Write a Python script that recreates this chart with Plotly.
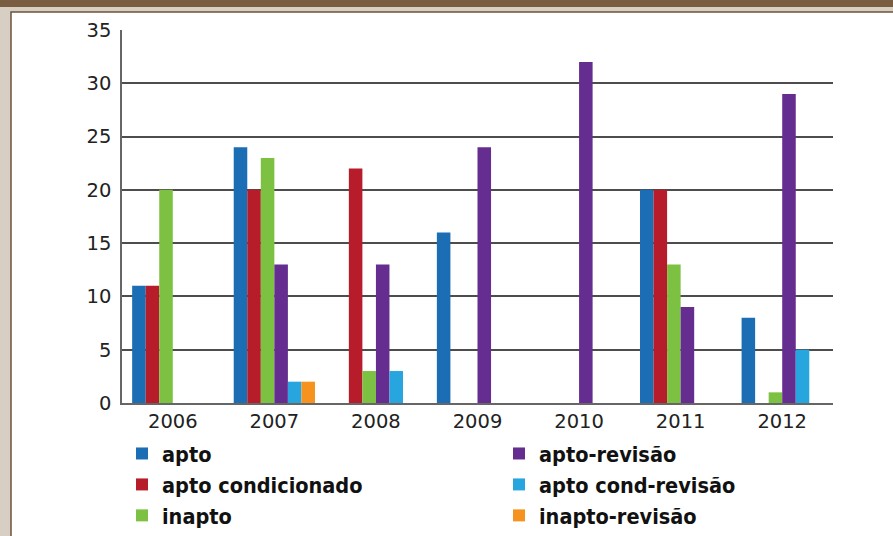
import plotly.graph_objects as go

years = ["2006", "2007", "2008", "2009", "2010", "2011", "2012"]
series_names = ["apto", "apto condicionado", "inapto",
                "apto-revisão", "apto cond-revisão", "inapto-revisão"]
apto = [11, 24, 0, 16, 0, 20, 8]
apto_cond = [11, 20, 22, 0, 0, 20, 0]
inapto = [20, 23, 3, 0, 0, 13, 1]
apto_rev = [0, 13, 13, 24, 32, 9, 29]
apto_cond_rev = [0, 2, 3, 0, 0, 0, 5]
inapto_rev = [0, 2, 0, 0, 0, 0, 0]
y_ticks = [0, 5, 10, 15, 20, 25, 30, 35]

values = [apto, apto_cond, inapto, apto_rev, apto_cond_rev, inapto_rev]
colors = ["#1b6db4", "#b71c2b", "#7cc142", "#652d8f", "#27a5df", "#f6921e"]
legend_ids = ["legend", "legend", "legend", "legend2", "legend2", "legend2"]

W, H = 893, 536
L, R, T, B = 122, 833, 30, 403


def px(x):
    return (x - L) / (R - L)


def py(y):
    return (B - y) / (B - T)


fig = go.Figure()
for name, vals, col, lg in zip(series_names, values, colors, legend_ids):
    fig.add_trace(go.Bar(
        x=years, y=vals, name=name, marker=dict(color=col, line=dict(width=0)),
        legend=lg, legendgroup=name,
    ))

brown = "#7a5d41"
shapes = [
    dict(type="rect", xref="paper", yref="paper", layer="below",
         x0=px(11), x1=px(905), y0=py(12), y1=py(545),
         fillcolor="white", line=dict(color="#6e5338", width=1.5)),
    dict(type="rect", xref="paper", yref="paper", layer="below",
         x0=px(-10), x1=px(905), y0=py(7), y1=py(-10),
         fillcolor=brown, line=dict(width=0)),
]

legend_font = dict(family="DejaVu Sans Condensed, Liberation Sans Narrow, Roboto, sans-serif",
                   size=21.5, color="#111111", weight="bold")

fig.update_layout(
    width=W, height=H,
    margin=dict(l=L, r=W - R, t=T, b=H - B, pad=0, autoexpand=False),
    paper_bgcolor="#d7cec4",
    plot_bgcolor="rgba(0,0,0,0)",
    barmode="group", bargap=0.2, bargroupgap=0,
    shapes=shapes,
    showlegend=True,
    legend=dict(x=px(122), y=py(433), xanchor="left", yanchor="top",
                orientation="v", font=legend_font, itemwidth=30,
                traceorder="grouped", tracegroupgap=0, bgcolor="rgba(0,0,0,0)"),
    legend2=dict(x=px(499), y=py(433), xanchor="left", yanchor="top",
                 orientation="v", font=legend_font, itemwidth=30,
                 traceorder="grouped", tracegroupgap=0, bgcolor="rgba(0,0,0,0)"),
    font=dict(family="DejaVu Sans, Open Sans, sans-serif", color="#222222"),
)

fig.update_xaxes(
    showgrid=False, showline=True, linecolor="#666666", linewidth=1.5,
    ticks="", ticklen=0,
    tickfont=dict(size=19.5, color="#222222"), zeroline=False,
)
fig.update_yaxes(
    range=[0, 35], tickvals=y_ticks, showgrid=True, gridcolor="#4d4d4d", gridwidth=1.5,
    showline=True, linecolor="#666666", linewidth=1.5, zeroline=False,
    ticks="outside", ticklen=5, tickcolor="rgba(0,0,0,0)",
    tickfont=dict(size=19.5, color="#222222"),
)

fig.write_html("out.html", config={"displayModeBar": False},
               post_script="document.body.style.margin='0';")
